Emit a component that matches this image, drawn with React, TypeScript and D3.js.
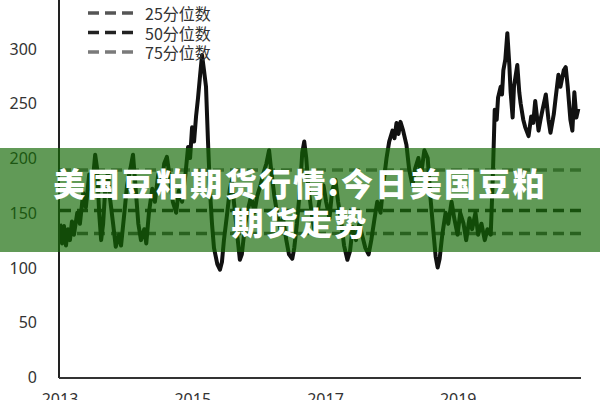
import * as d3 from "d3";

// weekly-ish soybean meal series (decimal years)
const years = [
  2013.0, 2013.03, 2013.06, 2013.09, 2013.12, 2013.15, 2013.18, 2013.21, 2013.26, 2013.3,
  2013.35, 2013.39, 2013.44, 2013.48, 2013.53, 2013.56, 2013.59, 2013.62, 2013.65, 2013.68,
  2013.72, 2013.75, 2013.8, 2013.84, 2013.89, 2013.92, 2013.97, 2014.01, 2014.06, 2014.1,
  2014.13, 2014.18, 2014.22, 2014.27, 2014.3, 2014.34, 2014.39, 2014.43, 2014.48, 2014.52,
  2014.57, 2014.61, 2014.66, 2014.7, 2014.75, 2014.79, 2014.84, 2014.89, 2014.93, 2014.96,
  2014.99, 2015.02, 2015.05, 2015.08, 2015.11, 2015.14, 2015.17, 2015.2, 2015.23, 2015.26,
  2015.29, 2015.32, 2015.37, 2015.41, 2015.44, 2015.47, 2015.52, 2015.56, 2015.59, 2015.62,
  2015.67, 2015.71, 2015.74, 2015.79, 2015.84, 2015.88, 2015.93, 2015.97, 2016.02, 2016.06,
  2016.11, 2016.15, 2016.18, 2016.23, 2016.27, 2016.32, 2016.36, 2016.41, 2016.45, 2016.5,
  2016.53, 2016.57, 2016.62, 2016.65, 2016.68, 2016.71, 2016.74, 2016.79, 2016.83, 2016.88,
  2016.92, 2016.97, 2017.01, 2017.06, 2017.1, 2017.15, 2017.19, 2017.24, 2017.28, 2017.33,
  2017.37, 2017.41, 2017.46, 2017.51, 2017.55, 2017.6, 2017.65, 2017.69, 2017.74, 2017.78,
  2017.83, 2017.87, 2017.92, 2017.96, 2018.01, 2018.04, 2018.07, 2018.1, 2018.13, 2018.17,
  2018.22, 2018.26, 2018.31, 2018.35, 2018.4, 2018.44, 2018.49, 2018.54, 2018.58, 2018.63,
  2018.66, 2018.69, 2018.72, 2018.76, 2018.81, 2018.85, 2018.9, 2018.94, 2018.99, 2019.03,
  2019.08, 2019.12, 2019.17, 2019.21, 2019.26, 2019.3, 2019.35, 2019.4, 2019.44, 2019.49,
  2019.52, 2019.55, 2019.58, 2019.6, 2019.64, 2019.66, 2019.68, 2019.71, 2019.74, 2019.77,
  2019.79, 2019.82, 2019.84, 2019.89, 2019.92, 2019.94, 2019.98, 2020.01, 2020.06, 2020.1,
  2020.13, 2020.16, 2020.21, 2020.24, 2020.27, 2020.32, 2020.36, 2020.39, 2020.44, 2020.47,
  2020.51, 2020.54, 2020.59, 2020.62, 2020.65, 2020.69, 2020.72, 2020.75, 2020.78, 2020.81,
];
const prices = [
  140, 122, 138, 120, 135, 125, 142, 130, 150, 140,
  168, 155, 185, 170, 203, 190, 150, 125, 140, 170,
  186, 165, 140, 119, 130, 120, 150, 175, 190, 203,
  180, 140, 125, 135, 122, 150, 172, 160, 185, 170,
  195, 201, 180, 160, 150, 170, 160, 185, 210, 200,
  228, 215, 238, 255, 275, 294, 280, 265, 215, 170,
  140, 118, 103, 98, 105, 125, 150, 172, 180, 160,
  130, 107, 112, 140, 155, 165, 150, 165, 175, 185,
  195, 207, 190, 165, 150, 135, 145, 125, 112, 108,
  118, 140, 175, 205, 215, 200, 175, 150, 135, 150,
  165, 175, 160, 145, 170, 180, 160, 140, 120, 107,
  115, 137, 125, 140, 130, 118, 112, 125, 145, 160,
  150, 175, 200, 215, 225, 218, 232, 222, 233, 225,
  212, 190, 175, 190, 200, 185, 207, 200, 165, 130,
  110, 100, 108, 130, 150, 140, 160, 145, 130, 150,
  140, 125, 145, 135, 150, 130, 140, 125, 135, 130,
  180, 244, 235, 255, 265, 258, 280, 290, 314, 285,
  260, 237, 265, 285, 260, 250, 235, 228, 220, 238,
  232, 252, 225, 235, 244, 258, 235, 223, 240, 256,
  276, 265, 280, 283, 265, 235, 225, 260, 237, 245,
];

const yTicks = [0, 50, 100, 150, 200, 250, 300];
const xTicks = [2013, 2015, 2017, 2019];

const quantileNames = ["25分位数", "50分位数", "75分位数"];
const quantileValues = [131, 152, 189];
const quantileColors = ["#555555", "#222222", "#7a7a7a"];

const titleLines = ["美国豆粕期货行情:今日美国豆粕", "期货走势"];

const W = 600;
const H = 400;

export default function App() {
  const x = d3.scaleLinear().domain([2013, 2020.85]).range([60, 581]);
  const y = d3.scaleLinear().domain([0, 300]).range([377, 48.5]);

  const points = years.map((yr, i) => [yr, prices[i]] as [number, number]);
  const line = d3
    .line<[number, number]>()
    .x((d) => x(d[0]))
    .y((d) => y(d[1]));

  const numFont = "'Noto Sans', 'DejaVu Sans', sans-serif";
  const cjkFont = "'Noto Sans CJK SC', 'Noto Sans', sans-serif";

  return (
    <svg
      width={W}
      height={H}
      style={{ position: "absolute", left: 0, top: 0, background: "#fff" }}
    >
      {/* y labels */}
      {yTicks.map((t) => (
        <text
          key={t}
          x={37}
          y={y(t)}
          textAnchor="end"
          dominantBaseline="central"
          fontSize={16}
          fontFamily={numFont}
          fill="#333"
        >
          {t}
        </text>
      ))}
      {/* x labels, cut off at the bottom */}
      {xTicks.map((t) => (
        <text
          key={t}
          x={x(t)}
          y={405}
          textAnchor="middle"
          fontSize={16}
          fontFamily={numFont}
          fill="#333"
        >
          {t}
        </text>
      ))}

      {/* quantile reference lines */}
      {quantileValues.map((v, i) => (
        <line
          key={i}
          x1={x.range()[0]}
          x2={x.range()[1]}
          y1={y(v)}
          y2={y(v)}
          stroke={quantileColors[i]}
          strokeWidth={3.5}
          strokeDasharray="11 6"
        />
      ))}

      {/* price line */}
      <path
        d={line(points) ?? ""}
        fill="none"
        stroke="#111"
        strokeWidth={4}
        strokeLinejoin="round"
      />

      {/* axes */}
      <line x1={59} x2={59} y1={0} y2={378} stroke="#222" strokeWidth={2} />
      <line x1={59} x2={581} y1={378} y2={378} stroke="#333" strokeWidth={2} />

      {/* legend */}
      {quantileNames.map((name, i) => (
        <g key={name} transform={`translate(0, ${13 + i * 19.5})`}>
          <line
            x1={88}
            x2={135}
            y1={0}
            y2={0}
            stroke={quantileColors[i]}
            strokeWidth={3.5}
            strokeDasharray="11 6"
          />
          <text
            x={145}
            y={0}
            dominantBaseline="central"
            fontSize={16}
            fontFamily={cjkFont}
            fill="#333"
          >
            {name}
          </text>
        </g>
      ))}

      {/* green title band */}
      <rect x={0} y={148} width={W} height={104} fill="rgba(20,105,5,0.67)" />
      {titleLines.map((t, i) => (
        <text
          key={i}
          x={300}
          y={182 + i * 39}
          textAnchor="middle"
          dominantBaseline="central"
          fontSize={32}
          fontWeight={900}
          letterSpacing={2.3}
          fontFamily={cjkFont}
          fill="#fff"
        >
          {t}
        </text>
      ))}
    </svg>
  );
}
